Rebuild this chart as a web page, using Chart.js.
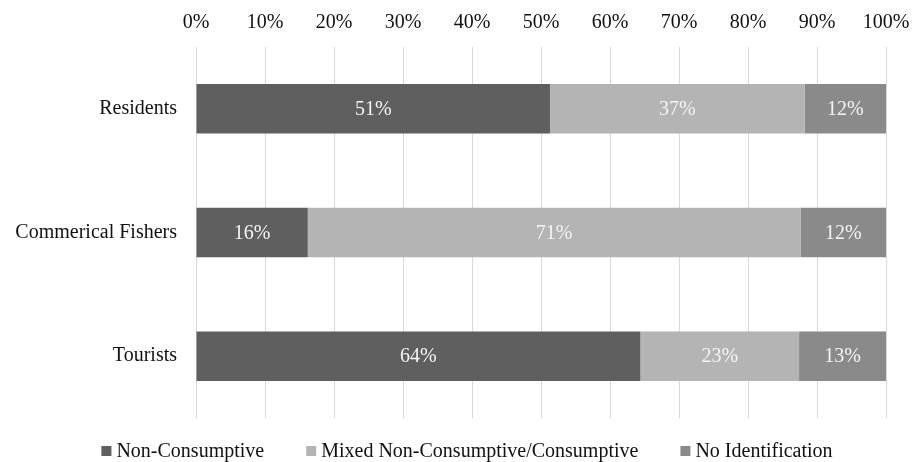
<!DOCTYPE html>
<html>
<head>
<meta charset="utf-8">
<script src="https://cdn.jsdelivr.net/npm/chart.js@4"></script>
<style>
  html, body { margin: 0; padding: 0; background: #fff; }
  #wrap { width: 912px; height: 462px; }
</style>
</head>
<body>
<div id="wrap"><canvas id="myChart" width="912" height="462"></canvas></div>
<script>
// values (percent of each group)
const categories = ['Residents', 'Commerical Fishers', 'Tourists'];
const seriesNames = ['Non-Consumptive', 'Mixed Non-Consumptive/Consumptive', 'No Identification'];
const nonConsumptive = [51.3, 16.2, 64.4];
const mixed = [36.9, 71.4, 23.0];
const noIdentification = [11.8, 12.4, 12.6];
const xTicks = [0, 10, 20, 30, 40, 50, 60, 70, 80, 90, 100];

const colors = ['#5f5f5f', '#b4b4b4', '#8a8a8a'];
const FONT = "'Liberation Serif', 'Times New Roman', serif";

// writes the rounded percent in the middle of every bar segment
const barLabels = {
  id: 'barLabels',
  afterDatasetsDraw(chart) {
    const ctx = chart.ctx;
    ctx.save();
    ctx.font = '20px ' + FONT;
    ctx.fillStyle = '#f4f4f4';
    ctx.textAlign = 'center';
    ctx.textBaseline = 'middle';
    chart.data.datasets.forEach((ds, i) => {
      chart.getDatasetMeta(i).data.forEach((bar, j) => {
        const cx = (bar.x + bar.base) / 2;
        ctx.fillText(Math.round(ds.data[j]) + '%', cx, bar.y + 1);
      });
    });
    ctx.restore();
  }
};

// legend drawn by hand so it stays a single short row
const bottomLegend = {
  id: 'bottomLegend',
  afterDraw(chart) {
    const ctx = chart.ctx;
    ctx.save();
    ctx.font = '20px ' + FONT;
    const box = 10, gapText = 5, gapItem = 42;
    const widths = chart.data.datasets.map(ds => box + gapText + ctx.measureText(ds.label).width);
    const total = widths.reduce((a, b) => a + b, 0) + gapItem * (widths.length - 1);
    let x = 467 - total / 2;
    const y = 451;
    ctx.textBaseline = 'middle';
    chart.data.datasets.forEach((ds, i) => {
      ctx.fillStyle = ds.backgroundColor;
      ctx.fillRect(x, y - 5, box, box);
      ctx.fillStyle = '#111';
      ctx.fillText(ds.label, x + box + gapText, y + 1);
      x += widths[i] + gapItem;
    });
    ctx.restore();
  }
};

const seriesValues = [nonConsumptive, mixed, noIdentification];

new Chart(document.getElementById('myChart'), {
  type: 'bar',
  data: {
    labels: categories,
    datasets: seriesNames.map((name, i) => ({
      label: name,
      data: seriesValues[i],
      backgroundColor: colors[i],
      borderWidth: 0,
      categoryPercentage: 1,
      barPercentage: 0.4
    }))
  },
  options: {
    indexAxis: 'y',
    responsive: false,
    animation: false,
    layout: { padding: { top: 0, right: 26, bottom: 44, left: 0 } },
    plugins: {
      legend: { display: false },
      tooltip: { enabled: false }
    },
    scales: {
      x: {
        position: 'top',
        stacked: true,
        min: 0,
        max: 100,
        afterFit(scale) {
          scale.height = 47;
          scale.paddingLeft = 0;
          scale.paddingRight = 0;
        },
        afterBuildTicks(scale) { scale.ticks = xTicks.map(v => ({ value: v })); },
        ticks: {
          padding: 12,
          color: '#111',
          font: { family: FONT, size: 20 },
          callback: v => v + '%'
        },
        grid: { color: '#d9d9d9', lineWidth: 1, drawTicks: false },
        border: { display: false }
      },
      y: {
        stacked: true,
        afterFit(scale) { scale.width = 196; },
        ticks: {
          padding: 19,
          color: '#111',
          font: { family: FONT, size: 20 }
        },
        grid: { display: false, drawTicks: false },
        border: { display: false }
      }
    }
  },
  plugins: [barLabels, bottomLegend]
});
</script>
</body>
</html>
